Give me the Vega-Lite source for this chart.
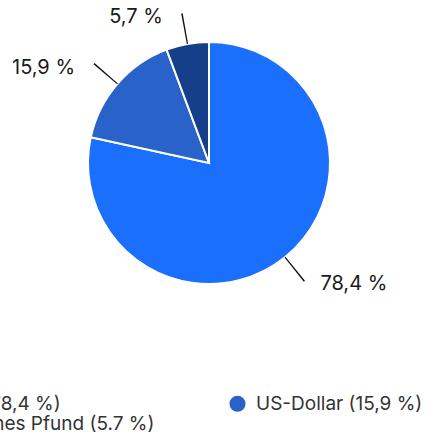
{
  "$schema": "https://vega.github.io/schema/vega-lite/v6.json",
  "width": 418,
  "height": 326,
  "autosize": {"type": "none"},
  "padding": {"left": 0, "top": 0, "right": 10, "bottom": 106},
  "background": "white",
  "data": {
    "values": [
      {"waehrung": "Euro (78,4 %)", "anteil": 78.4, "beschriftung": "78,4 %"},
      {"waehrung": "US-Dollar (15,9 %)", "anteil": 15.9, "beschriftung": "15,9 %"},
      {"waehrung": "Britisches Pfund (5.7 %)", "anteil": 5.7, "beschriftung": "5,7 %"}
    ]
  },
  "transform": [
    {"joinaggregate": [{"op": "sum", "field": "anteil", "as": "total"}]},
    {"window": [{"op": "sum", "field": "anteil", "as": "cum"}], "sort": [{"field": "anteil", "order": "descending"}], "frame": [null, 0]},
    {"calculate": "(datum.cum - datum.anteil / 2) / datum.total * 2 * PI", "as": "mid"},
    {"calculate": "datum.mid - 0.005", "as": "t0"},
    {"calculate": "datum.mid + 0.005", "as": "t1"}
  ],
  "layer": [
    {
      "mark": {"type": "arc", "outerRadius": 121, "stroke": "white", "strokeWidth": 2},
      "encoding": {
        "theta": {"field": "anteil", "type": "quantitative", "stack": true},
        "order": {"field": "anteil", "sort": "descending"},
        "color": {
          "field": "waehrung",
          "type": "nominal",
          "sort": ["Euro (78,4 %)", "Britisches Pfund (5.7 %)", "US-Dollar (15,9 %)"],
          "scale": {
            "domain": ["Euro (78,4 %)", "Britisches Pfund (5.7 %)", "US-Dollar (15,9 %)"],
            "range": ["#1b6ffd", "#153f88", "#2962c9"]
          },
          "legend": {
            "title": null,
            "orient": "none",
            "legendX": -91,
            "legendY": 394,
            "columns": 2,
            "columnPadding": 73,
            "rowPadding": 0,
            "symbolType": "circle",
            "symbolSize": 256,
            "symbolStrokeWidth": 0,
            "labelFont": "Inter",
            "labelFontSize": 19,
            "labelColor": "#333333",
            "labelOffset": 9,
            "labelLimit": 400
          }
        }
      }
    },
    {
      "mark": {"type": "arc", "outerRadius": 152, "innerRadius": 121, "color": "#111111"},
      "encoding": {
        "theta": {"field": "t0", "type": "quantitative", "scale": null},
        "theta2": {"field": "t1"}
      }
    },
    {
      "transform": [{"filter": "datum.mid < PI"}],
      "mark": {"type": "text", "radius": 152, "align": "left", "baseline": "middle", "dx": 16, "dy": 3, "font": "Inter", "fontSize": 20, "color": "#1a1a1a"},
      "encoding": {
        "theta": {"field": "mid", "type": "quantitative", "scale": null},
        "text": {"field": "beschriftung"}
      }
    },
    {
      "transform": [{"filter": "datum.mid >= PI"}],
      "mark": {"type": "text", "radius": 152, "align": "right", "baseline": "middle", "dx": -19, "dy": 4, "font": "Inter", "fontSize": 20, "color": "#1a1a1a"},
      "encoding": {
        "theta": {"field": "mid", "type": "quantitative", "scale": null},
        "text": {"field": "beschriftung"}
      }
    }
  ],
  "resolve": {"scale": {"theta": "independent"}},
  "config": {"view": {"stroke": null}}
}
